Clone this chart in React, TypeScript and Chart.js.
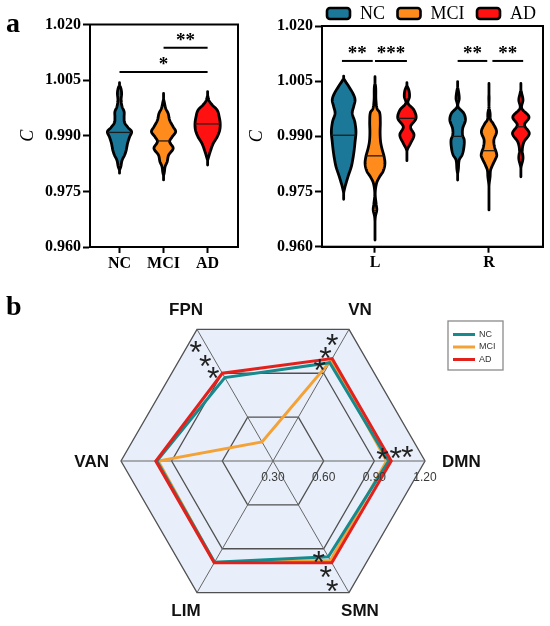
import React, { useEffect, useRef } from 'react';
import { Chart, registerables } from 'chart.js';

Chart.register(...registerables);

const SERIF = "'Liberation Serif', 'Times New Roman', Times, serif";
const SANS = "'Liberation Sans', Arial, Helvetica, sans-serif";

/* ---------------- panel a : shared ---------------- */
const groupNames = ['NC', 'MCI', 'AD'];
const groupColors = ['#1b7898', '#ff8b1d', '#ff1111'];
const yTickValues = [0.96, 0.975, 0.99, 1.005, 1.02];

/* panel a, left: whole brain. Violin profiles are [C value, density] */
const wholeCategories = ['NC', 'MCI', 'AD'];
const wholeMedians = [0.9909, 0.9886, 0.9932];
const ncWholeViolin = [[1.0043, 0], [1.003, 2.5], [1.0015, 3.5], [0.9996, 3], [0.9978, 4], [0.9965, 6], [0.995, 6], [0.9935, 6.5], [0.9922, 10], [0.9911, 13.5], [0.9897, 11.5], [0.988, 9.5], [0.986, 8], [0.9848, 6.5], [0.9834, 4], [0.9815, 2.5], [0.9799, 0]];
const mciWholeViolin = [[1.0014, 0], [0.9992, 2], [0.9974, 3.5], [0.996, 6], [0.9942, 7.5], [0.9924, 11], [0.9911, 13.5], [0.9897, 10], [0.9884, 7.5], [0.9866, 11], [0.9848, 6.5], [0.983, 5], [0.9817, 3], [0.9799, 2], [0.9781, 0]];
const adWholeViolin = [[1.0019, 0], [1.0005, 1.8], [0.9996, 2.5], [0.9983, 6], [0.9969, 11], [0.9951, 13], [0.9933, 14], [0.9915, 13.5], [0.9897, 11], [0.9879, 7], [0.9857, 4], [0.9839, 2], [0.9821, 0]];
const wholeSigFrom = [0, 1];
const wholeSigTo = [2, 2];
const wholeSigLevel = [1.0072, 1.0137];
const wholeSigText = ['*', '**'];

/* panel a, right: hemispheres */
const hemiCategories = ['L', 'R'];
const hemiGroupOffset = [-0.275, 0, 0.28];
const ncHemiMedians = [0.9903, 0.99];
const mciHemiMedians = [0.9847, 0.9861];
const adHemiMedians = [0.9949, 0.9926];
const ncLeftViolin = [[1.0064, 0], [1.0048, 3.5], [1.0035, 6.7], [1.0015, 11], [0.9999, 12.8], [0.9982, 11.5], [0.9963, 10], [0.994, 12.5], [0.9913, 13.7], [0.9885, 12.8], [0.9858, 11.7], [0.9837, 10.5], [0.9817, 9], [0.979, 5.7], [0.9763, 2.8], [0.9729, 0]];
const mciLeftViolin = [[1.0062, 0], [1.0035, 2], [1.0, 2.3], [0.9975, 3.5], [0.9965, 6], [0.994, 6.7], [0.991, 6.5], [0.9885, 7], [0.9865, 8.5], [0.9845, 10.5], [0.9825, 11.3], [0.9805, 9.5], [0.979, 6], [0.9773, 3], [0.9745, 1.6], [0.9715, 2.6], [0.97, 3.2], [0.9682, 1.8], [0.965, 1], [0.9618, 0]];
const adLeftViolin = [[1.0046, 0], [1.0026, 3.3], [1.0008, 4], [0.999, 2.5], [0.9972, 8.3], [0.9949, 10.5], [0.9926, 5], [0.9904, 8.5], [0.9881, 5], [0.9863, 1.7], [0.9834, 0]];
const ncRightViolin = [[1.0049, 0], [1.0026, 2], [1.0003, 3], [0.9981, 1.8], [0.9963, 7.5], [0.9944, 9.2], [0.9922, 6.5], [0.9904, 6.3], [0.989, 8], [0.9867, 7.5], [0.9849, 5.8], [0.9836, 3], [0.9808, 2], [0.9781, 0]];
const mciRightViolin = [[1.0044, 0], [1.001, 1.5], [0.998, 1.5], [0.9963, 2.5], [0.9945, 3], [0.9935, 5.5], [0.9913, 9], [0.989, 6.3], [0.9871, 7], [0.9849, 9.2], [0.9836, 7.5], [0.9822, 5], [0.9808, 3], [0.979, 2.5], [0.9768, 1.5], [0.9736, 1], [0.97, 0]];
const adRightViolin = [[1.0044, 0], [1.0017, 2.2], [0.9999, 3.5], [0.9976, 2.3], [0.9953, 9.5], [0.9931, 5], [0.9908, 9.8], [0.9885, 4.5], [0.9863, 2.8], [0.984, 3.5], [0.9817, 1.6], [0.979, 0]];
const hemiSigFrom = [-0.29, 0.0, 0.725, 1.03];
const hemiSigTo = [-0.02, 0.28, 0.985, 1.3];
const hemiSigLevel = [1.0105, 1.0105, 1.0105, 1.0105];
const hemiSigText = ['**', '***', '**', '**'];

/* ---------------- panel b : radar ---------------- */
const radarLabels = ['VN', 'DMN', 'SMN', 'LIM', 'VAN', 'FPN'];
const radarNC = [0.972, 0.985, 0.955, 0.992, 0.988, 0.87];
const radarMCI = [0.99, 0.973, 0.98, 0.994, 0.98, 0.43];
const radarAD = [1.0, 1.0, 0.996, 0.996, 0.994, 0.9];
const radarTicks = [0.3, 0.6, 0.9, 1.2];
const radarTickText = ['0.30', '0.60', '0.90', '1.20'];
const radarColors = ['#168a8c', '#f4a236', '#e3211c'];
const starAxes = ['FPN', 'VN', 'DMN', 'SMN'];
const starValues = [[1.115, 1.015, 0.93], [1.1, 1.01, 0.932], [0.95, 1.028, 1.097], [0.93, 1.027, 1.117]];
const starTurnDeg = [-4.2, -4, -3.9, 4.6];

/* ---------------- helpers ---------------- */
const VIOLIN_PX = 1; // px per density unit
const VIOLIN_INSET = 1.4;

type Violin = { x: number; profile: number[][]; median: number; color: string };

function smoothProfile(profile: number[][], steps: number): number[][] {
  const pts = profile.slice().sort((a, b) => b[0] - a[0]);
  const n = pts.length;
  const out: number[][] = [];
  const slope = (i: number, j: number) => (pts[j][1] - pts[i][1]) / (pts[j][0] - pts[i][0]);
  for (let i = 0; i < n - 1; i++) {
    const [v0, w0] = pts[i];
    const [v1, w1] = pts[i + 1];
    const h = v1 - v0;
    const m0 = i > 0 ? slope(i - 1, i + 1) : slope(i, i + 1);
    const m1 = i < n - 2 ? slope(i, i + 2) : slope(i, i + 1);
    for (let k = 0; k < steps; k++) {
      const t = k / steps;
      const t2 = t * t;
      const t3 = t2 * t;
      const w = (2 * t3 - 3 * t2 + 1) * w0 + (t3 - 2 * t2 + t) * h * m0 + (-2 * t3 + 3 * t2) * w1 + (t3 - t2) * h * m1;
      out.push([v0 + t * h, Math.max(0, w)]);
    }
  }
  out.push([pts[n - 1][0], pts[n - 1][1]]);
  return out;
}

function drawViolin(ctx: CanvasRenderingContext2D, xs: any, ys: any, v: Violin) {
  const cx = xs.getPixelForValue(v.x);
  const pts = smoothProfile(v.profile, 10);
  const half = (w: number) => Math.max(0, w - VIOLIN_INSET) * VIOLIN_PX;
  ctx.save();
  ctx.beginPath();
  pts.forEach(([val, w], i) => {
    const px = cx + half(w);
    const py = ys.getPixelForValue(val);
    if (i === 0) ctx.moveTo(px, py);
    else ctx.lineTo(px, py);
  });
  for (let i = pts.length - 1; i >= 0; i--) {
    ctx.lineTo(cx - half(pts[i][1]), ys.getPixelForValue(pts[i][0]));
  }
  ctx.closePath();
  ctx.fillStyle = v.color;
  ctx.fill();
  ctx.lineWidth = 2.8;
  ctx.lineJoin = 'round';
  ctx.strokeStyle = '#000';
  ctx.stroke();
  let wm = 0;
  for (let i = 0; i < pts.length - 1; i++) {
    const [a, wa] = pts[i];
    const [b, wb] = pts[i + 1];
    if ((a - v.median) * (b - v.median) <= 0) {
      const t = (v.median - a) / (b - a || 1);
      wm = wa + t * (wb - wa);
      break;
    }
  }
  const my = ys.getPixelForValue(v.median);
  ctx.beginPath();
  ctx.moveTo(cx - half(wm), my);
  ctx.lineTo(cx + half(wm), my);
  ctx.lineWidth = 1.3;
  ctx.strokeStyle = '#1c1c1c';
  ctx.stroke();
  ctx.restore();
}

function fillInkCentered(ctx: CanvasRenderingContext2D, text: string, x: number, y: number) {
  ctx.textAlign = 'center';
  ctx.textBaseline = 'alphabetic';
  const m = ctx.measureText(text);
  ctx.fillText(text, x, y + (m.actualBoundingBoxAscent - m.actualBoundingBoxDescent) / 2);
}

type SigSet = { from: number[]; to: number[]; level: number[]; text: string[] };

function makeViolinPlugin(violins: Violin[], sig: SigSet, letter: string | null, legendStartX: number | null) {
  return {
    id: 'violinLayer',
    afterDatasetsDraw(chart: any) {
      const { ctx, chartArea, scales } = chart;
      const xs = scales.x;
      const ys = scales.y;
      violins.forEach((v) => drawViolin(ctx, xs, ys, v));
      ctx.save();
      // frame
      ctx.strokeStyle = '#000';
      ctx.lineWidth = 2;
      ctx.strokeRect(chartArea.left, chartArea.top, chartArea.right - chartArea.left, chartArea.bottom - chartArea.top);
      // significance bars
      sig.from.forEach((f, i) => {
        const x1 = xs.getPixelForValue(f);
        const x2 = xs.getPixelForValue(sig.to[i]);
        const y = ys.getPixelForValue(sig.level[i]);
        ctx.beginPath();
        ctx.moveTo(x1, y);
        ctx.lineTo(x2, y);
        ctx.lineWidth = 2;
        ctx.strokeStyle = '#000';
        ctx.stroke();
        ctx.fillStyle = '#000';
        ctx.font = `bold 19px ${SERIF}`;
        fillInkCentered(ctx, sig.text[i], (x1 + x2) / 2, y - 11);
      });
      // panel letter
      if (letter) {
        ctx.fillStyle = '#000';
        ctx.font = `bold 28px ${SERIF}`;
        ctx.textAlign = 'left';
        ctx.textBaseline = 'alphabetic';
        ctx.fillText(letter, 6, 32);
      }
      // legend
      if (legendStartX !== null) {
        let x = legendStartX;
        const yc = 13.5;
        ctx.font = `18px ${SERIF}`;
        ctx.textBaseline = 'middle';
        ctx.textAlign = 'left';
        chart.data.datasets.forEach((ds: any) => {
          ctx.beginPath();
          (ctx as any).roundRect(x, yc - 5.5, 23, 11, 3);
          ctx.fillStyle = ds.backgroundColor;
          ctx.fill();
          ctx.lineWidth = 2.6;
          ctx.strokeStyle = '#000';
          ctx.stroke();
          ctx.fillStyle = '#000';
          ctx.fillText(ds.label, x + 33, yc + 1);
          x += 33 + ctx.measureText(ds.label).width + 12.5;
        });
      }
      ctx.restore();
    },
  };
}

function violinScales(categories: number[], labels: string[], xMin: number, xMax: number, yWidth: number, xHeight: number, titlePad: number) {
  return {
    x: {
      type: 'linear',
      min: xMin,
      max: xMax,
      afterBuildTicks: (axis: any) => {
        axis.ticks = categories.map((v) => ({ value: v }));
      },
      afterFit: (axis: any) => {
        axis.height = xHeight;
      },
      ticks: {
        autoSkip: false,
        maxRotation: 0,
        padding: 1,
        color: '#000',
        font: { family: SERIF, size: 16, weight: 'bold' },
        callback: (_v: any, i: number) => labels[i],
      },
      grid: { display: true, drawOnChartArea: false, drawTicks: true, tickLength: 6, tickWidth: 2, tickColor: '#000' },
      border: { display: true, color: '#000', width: 2 },
    },
    y: {
      type: 'linear',
      min: 0.96,
      max: 1.02,
      afterBuildTicks: (axis: any) => {
        axis.ticks = yTickValues.map((v) => ({ value: v }));
      },
      afterFit: (axis: any) => {
        axis.width = yWidth;
      },
      ticks: {
        padding: 2,
        color: '#000',
        font: { family: SERIF, size: 16, weight: 'bold' },
        callback: (v: any) => Number(v).toFixed(3),
      },
      grid: { display: true, drawOnChartArea: false, drawTicks: true, tickLength: 7, tickWidth: 2, tickColor: '#000' },
      border: { display: true, color: '#000', width: 2 },
      title: {
        display: true,
        text: 'C',
        color: '#000',
        font: { family: SERIF, size: 18, style: 'italic' },
        padding: { top: titlePad, bottom: 0 },
      },
    },
  };
}

function makeRadarPlugin() {
  return {
    id: 'radarLayer',
    afterDatasetsDraw(chart: any) {
      const { ctx } = chart;
      const scale = chart.scales.r;
      const R = scale.drawingArea;
      const cx = scale.xCenter;
      const cy = scale.yCenter;
      ctx.save();
      // axis labels
      ctx.fillStyle = '#111';
      ctx.font = `bold 17px ${SANS}`;
      ctx.textBaseline = 'middle';
      radarLabels.forEach((lab, i) => {
        const a = scale.getIndexAngle(i) - Math.PI / 2;
        const c = Math.cos(a);
        const s = Math.sin(a);
        if (Math.abs(c) > 0.99) {
          const gap = c > 0 ? 17 : 12;
          ctx.textAlign = c > 0 ? 'left' : 'right';
          ctx.fillText(lab, cx + c * (R + gap), cy + s * (R + gap) + 1);
        } else {
          ctx.textAlign = 'center';
          ctx.fillText(lab, cx + c * (R + 22), cy + s * (R + 22));
        }
      });
      // tick labels along DMN axis
      const dmn = radarLabels.indexOf('DMN');
      ctx.fillStyle = '#3a3a3a';
      ctx.font = `12px ${SANS}`;
      ctx.textAlign = 'center';
      radarTicks.forEach((v, i) => {
        const p = scale.getPointPositionForValue(dmn, v);
        ctx.fillText(radarTickText[i], p.x, p.y + 17);
      });
      // significance stars
      ctx.fillStyle = '#222';
      ctx.font = `32px ${SANS}`;
      starAxes.forEach((axis, g) => {
        const idx = radarLabels.indexOf(axis);
        const a = scale.getIndexAngle(idx) - Math.PI / 2 + (starTurnDeg[g] * Math.PI) / 180;
        starValues[g].forEach((v) => {
          const d = scale.getDistanceFromCenterForValue(v);
          fillInkCentered(ctx, '*', cx + Math.cos(a) * d, cy + Math.sin(a) * d);
        });
      });
      // legend box
      const lx = 448;
      const ly = 31;
      ctx.fillStyle = '#fff';
      ctx.fillRect(lx, ly, 55, 49);
      ctx.strokeStyle = '#8a8a8a';
      ctx.lineWidth = 1.3;
      ctx.strokeRect(lx, ly, 55, 49);
      ctx.font = `9px ${SANS}`;
      ctx.textAlign = 'left';
      ctx.textBaseline = 'middle';
      chart.data.datasets.forEach((ds: any, i: number) => {
        const y = ly + 13.5 + i * 12.5;
        ctx.beginPath();
        ctx.moveTo(lx + 5, y);
        ctx.lineTo(lx + 27, y);
        ctx.strokeStyle = ds.borderColor;
        ctx.lineWidth = 3;
        ctx.stroke();
        ctx.fillStyle = '#333';
        ctx.fillText(ds.label, lx + 31, y);
      });
      // panel letter
      ctx.fillStyle = '#000';
      ctx.font = `bold 28px ${SERIF}`;
      ctx.textAlign = 'left';
      ctx.textBaseline = 'alphabetic';
      ctx.fillText('b', 6, 25);
      ctx.restore();
    },
  };
}

export default function App() {
  const leftRef = useRef<HTMLCanvasElement>(null);
  const rightRef = useRef<HTMLCanvasElement>(null);
  const radarRef = useRef<HTMLCanvasElement>(null);

  useEffect(() => {
    const charts: Chart[] = [];

    /* ----- whole-brain violins ----- */
    const wholeProfiles = [ncWholeViolin, mciWholeViolin, adWholeViolin];
    const wholeViolins: Violin[] = wholeCategories.map((_, i) => ({
      x: i,
      profile: wholeProfiles[i],
      median: wholeMedians[i],
      color: groupColors[i],
    }));
    charts.push(
      new Chart(leftRef.current!, {
        type: 'scatter',
        data: {
          datasets: groupNames.map((g, i) => ({
            label: g,
            data: [{ x: i, y: wholeMedians[i] }],
            pointRadius: 0,
            backgroundColor: groupColors[i],
            borderColor: '#000',
          })),
        },
        options: {
          responsive: false,
          animation: false,
          layout: { padding: { left: 0, right: 12, top: 24.5, bottom: 0 } },
          plugins: { legend: { display: false }, tooltip: { enabled: false } },
          scales: violinScales([0, 1, 2], wholeCategories, -0.67, 2.69, 90, 35, 17) as any,
        },
        plugins: [makeViolinPlugin(wholeViolins, { from: wholeSigFrom, to: wholeSigTo, level: wholeSigLevel, text: wholeSigText }, 'a', null)],
      } as any)
    );

    /* ----- hemisphere violins ----- */
    const hemiProfiles = [
      [ncLeftViolin, ncRightViolin],
      [mciLeftViolin, mciRightViolin],
      [adLeftViolin, adRightViolin],
    ];
    const hemiMedians = [ncHemiMedians, mciHemiMedians, adHemiMedians];
    const hemiViolins: Violin[] = [];
    groupNames.forEach((_, g) => {
      hemiCategories.forEach((__, h) => {
        hemiViolins.push({
          x: h + hemiGroupOffset[g],
          profile: hemiProfiles[g][h],
          median: hemiMedians[g][h],
          color: groupColors[g],
        });
      });
    });
    charts.push(
      new Chart(rightRef.current!, {
        type: 'scatter',
        data: {
          datasets: groupNames.map((g, gi) => ({
            label: g,
            data: hemiCategories.map((_, h) => ({ x: h + hemiGroupOffset[gi], y: hemiMedians[gi][h] })),
            pointRadius: 0,
            backgroundColor: groupColors[gi],
            borderColor: '#000',
          })),
        },
        options: {
          responsive: false,
          animation: false,
          layout: { padding: { left: 0, right: 7, top: 26, bottom: 0 } },
          plugins: { legend: { display: false }, tooltip: { enabled: false } },
          scales: violinScales([0, 1], hemiCategories, -0.465, 1.474, 78, 35.3, 2) as any,
        },
        plugins: [makeViolinPlugin(hemiViolins, { from: hemiSigFrom, to: hemiSigTo, level: hemiSigLevel, text: hemiSigText }, null, 83)],
      } as any)
    );

    /* ----- radar ----- */
    const radarSeries = [radarNC, radarMCI, radarAD];
    const radarOrder = [2, 3, 1];
    charts.push(
      new Chart(radarRef.current!, {
        type: 'radar',
        data: {
          labels: radarLabels,
          datasets: groupNames.map((g, i) => ({
            label: g,
            data: radarSeries[i],
            borderColor: radarColors[i],
            backgroundColor: 'transparent',
            borderWidth: 3,
            pointRadius: 0,
            fill: false,
            tension: 0,
            order: radarOrder[i],
          })),
        },
        options: {
          responsive: false,
          animation: false,
          layout: { padding: { left: 73, right: 77, top: 19, bottom: 12 } },
          plugins: { legend: { display: false }, tooltip: { enabled: false } },
          scales: {
            r: {
              min: 0.3,
              max: 1.2,
              startAngle: 30,
              afterBuildTicks: (axis: any) => {
                axis.ticks = radarTicks.map((v) => ({ value: v }));
              },
              ticks: { display: false },
              pointLabels: { display: false },
              grid: { color: '#505050', lineWidth: 1.3 },
              angleLines: { color: '#666', lineWidth: 1 },
              backgroundColor: '#e8effa',
            },
          },
        },
        plugins: [makeRadarPlugin()],
      } as any)
    );

    return () => charts.forEach((c) => c.destroy());
  }, []);

  return (
    <div style={{ position: 'fixed', left: 0, top: 0, width: 550, height: 626, background: '#fff', overflow: 'hidden' }}>
      <canvas ref={leftRef} width={250} height={282} style={{ position: 'absolute', left: 0, top: 0 }} />
      <canvas ref={rightRef} width={306} height={282} style={{ position: 'absolute', left: 244, top: 0 }} />
      <canvas ref={radarRef} width={550} height={336} style={{ position: 'absolute', left: 0, top: 290 }} />
    </div>
  );
}
